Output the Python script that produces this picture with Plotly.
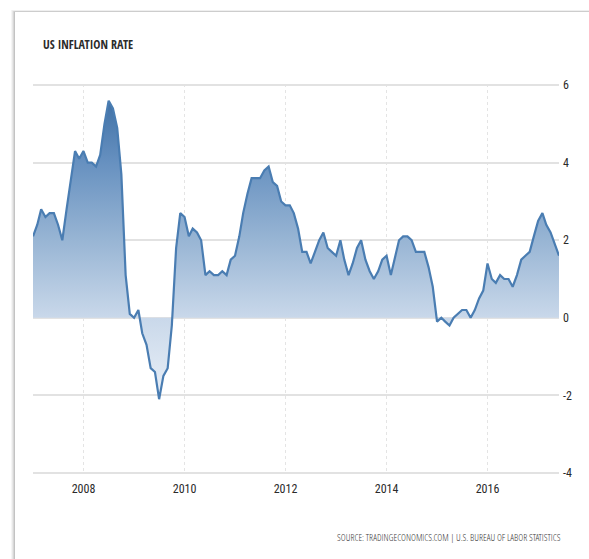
import plotly.graph_objects as go

# Monthly US inflation rate (YoY %), Jan 2007 .. Jun 2017
months = [f"{y}-{m:02d}-01" for y in range(2007, 2018) for m in range(1, 13)][:126]
v2007 = [2.1, 2.4, 2.8, 2.6, 2.7, 2.7, 2.4, 2.0, 2.8, 3.5, 4.3, 4.1]
v2008 = [4.3, 4.0, 4.0, 3.9, 4.2, 5.0, 5.6, 5.4, 4.9, 3.7, 1.1, 0.1]
v2009 = [0.0, 0.2, -0.4, -0.7, -1.3, -1.4, -2.1, -1.5, -1.3, -0.2, 1.8, 2.7]
v2010 = [2.6, 2.1, 2.3, 2.2, 2.0, 1.1, 1.2, 1.1, 1.1, 1.2, 1.1, 1.5]
v2011 = [1.6, 2.1, 2.7, 3.2, 3.6, 3.6, 3.6, 3.8, 3.9, 3.5, 3.4, 3.0]
v2012 = [2.9, 2.9, 2.7, 2.3, 1.7, 1.7, 1.4, 1.7, 2.0, 2.2, 1.8, 1.7]
v2013 = [1.6, 2.0, 1.5, 1.1, 1.4, 1.8, 2.0, 1.5, 1.2, 1.0, 1.2, 1.5]
v2014 = [1.6, 1.1, 1.5, 2.0, 2.1, 2.1, 2.0, 1.7, 1.7, 1.7, 1.3, 0.8]
v2015 = [-0.1, 0.0, -0.1, -0.2, 0.0, 0.1, 0.2, 0.2, 0.0, 0.2, 0.5, 0.7]
v2016 = [1.4, 1.0, 0.9, 1.1, 1.0, 1.0, 0.8, 1.1, 1.5, 1.6, 1.7, 2.1]
v2017 = [2.5, 2.7, 2.4, 2.2, 1.9, 1.6]
values = v2007 + v2008 + v2009 + v2010 + v2011 + v2012 + v2013 + v2014 + v2015 + v2016 + v2017

x_tick_vals = ["2008-01-01", "2010-01-01", "2012-01-01", "2014-01-01", "2016-01-01"]
x_tick_text = ["2008", "2010", "2012", "2014", "2016"]
y_tick_vals = [6, 4, 2, 0, -2, -4]
y_tick_text = ["6", "4", "2", "0", "-2", "-4"]

title_text = "US INFLATION RATE"
source_text = "SOURCE: TRADINGECONOMICS.COM | U.S. BUREAU OF LABOR STATISTICS"

TITLE_FONT = "Open Sans Condensed, Roboto Condensed, sans-serif"
TICK_FONT = "Roboto Condensed, Open Sans Condensed, sans-serif"
SRC_FONT = "Open Sans Condensed Light, Roboto Condensed, sans-serif"

W, H = 589, 559
L, R, T, B = 33, 30, 84, 85
pw, ph = W - L - R, H - T - B


def px(xp):
    return (xp - L) / pw


def py(yp):
    return (H - B - yp) / ph


fig = go.Figure()
fig.add_trace(go.Scatter(
    x=months[:len(values)], y=values, mode="lines",
    line=dict(color="#4a7db2", width=2.2),
    fill="tozeroy",
    fillgradient=dict(
        type="vertical",
        colorscale=[[0.0, "#ffffff"], [0.2, "#e9eff7"], [0.4, "#c9d8ea"],
                    [0.6, "#98b5d4"], [0.8, "#6791c0"], [1.0, "#3669a0"]],
        start=-4, stop=6,
    ),
    hoverinfo="skip",
))

shapes = []
# card shadow
for off, alpha in [(4, 0.04), (3, 0.05), (2, 0.07), (1, 0.09)]:
    shapes.append(dict(type="rect", xref="paper", yref="paper", layer="below",
                       x0=px(15 - off), x1=px(W + 50), y0=py(H + 50), y1=py(12 - off * 0.5),
                       fillcolor=f"rgba(0,0,0,{alpha})", line=dict(width=0)))
shapes.append(dict(type="rect", xref="paper", yref="paper", layer="below",
                   x0=px(15), x1=px(W + 50), y0=py(H + 50), y1=py(12),
                   fillcolor="#ffffff", line=dict(width=0)))

fig.update_layout(
    width=W, height=H,
    margin=dict(l=L, r=R, t=T, b=B),
    paper_bgcolor="#ffffff", plot_bgcolor="rgba(0,0,0,0)",
    showlegend=False,
    shapes=shapes,
    font=dict(family=TICK_FONT, color="#333333"),
    xaxis=dict(
        range=["2007-01-01", "2017-06-01"],
        tickvals=x_tick_vals, ticktext=x_tick_text,
        showgrid=True, gridcolor="#e4e4e4", griddash="dot", gridwidth=1,
        zeroline=False, showline=False, ticks="",
        tickfont=dict(size=12, color="#2a2a2a", family=TICK_FONT),
        ticklabelstandoff=6,
    ),
    yaxis=dict(
        range=[-4.03, 6.03], side="right",
        tickvals=y_tick_vals, ticktext=y_tick_text,
        showgrid=True, gridcolor="#e2e2e2", gridwidth=1.5,
        zeroline=False, showline=False, ticks="",
        tickfont=dict(size=12, color="#2a2a2a", family=TICK_FONT),
        ticklabelstandoff=3,
    ),
    annotations=[
        dict(text=title_text, xref="paper", yref="paper", x=px(41), y=py(45),
             xanchor="left", yanchor="middle", showarrow=False,
             font=dict(size=12, color="#2b2b2b", family=TITLE_FONT, weight="bold")),
        dict(text=source_text, xref="paper", yref="paper", x=px(563), y=py(537),
             xanchor="right", yanchor="middle", showarrow=False,
             font=dict(size=9.5, color="#3a3a3a", family=SRC_FONT)),
    ],
)

fig.write_html("out.html")
